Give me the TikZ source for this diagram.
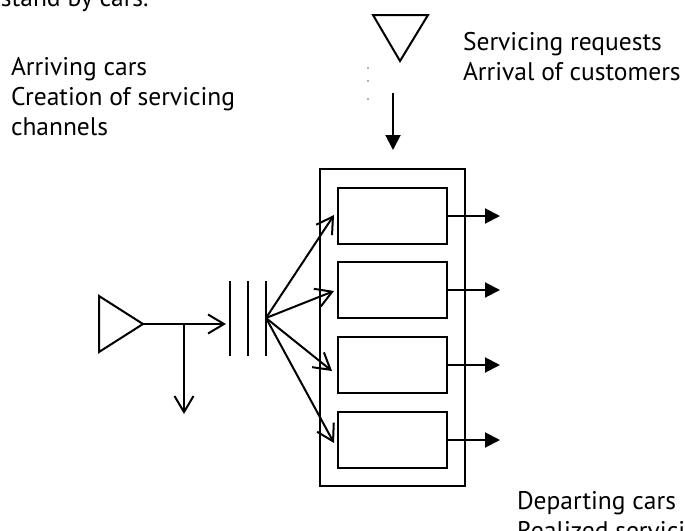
\documentclass[tikz,border=0pt]{standalone}
\usepackage{fontspec}
\setmainfont{PT Sans}
\usetikzlibrary{arrows.meta}
\begin{document}
\begin{tikzpicture}[x=1pt,y=-1pt,line width=2pt,
  chan/.style={draw,minimum width=109pt,minimum height=56pt,inner sep=0pt},
  lbl/.style={anchor=north west,align=left,inner sep=0pt,font=\fontsize{25.5}{30}\selectfont},
  barb/.style={-{Straight Barb[length=16pt,width=19pt]}},
  exit/.style={-{Triangle[length=15pt,width=15pt]}}]
  \useasboundingbox (0,0) rectangle (685,530);
  % cut-off line of the text above
  \node[anchor=base west,inner sep=0pt,font=\fontsize{25.5}{30}\selectfont] (above) at (0,6) {stand by cars.};
  % servicing requests source
  \draw (373,15) -- (428,15) -- (400,61) -- cycle;
  \foreach \y in {67,80,98}
    \fill[gray!60] (367,\y) rectangle (369,\y+1.5);
  \coordinate (reqin) at (393,93);
  \coordinate (reqout) at (393,150);
  \draw[exit] (reqin) -- (reqout);
  % servicing system with channels
  \node[draw,minimum width=145pt,minimum height=317pt,inner sep=0pt] (sys) at (392.5,327.5) {};
  \foreach \y [count=\i] in {216,290,365,440} {
    \node[chan] (b\i) at (392.5,\y) {};
    \coordinate (e\i) at (500,\y);
    \draw[exit] (b\i.east) -- (e\i);
  }
  % arriving cars
  \draw (99,296) -- (143,324) -- (99,352) -- cycle;
  \coordinate (src) at (143,324);
  \coordinate (split) at (184,324);
  \coordinate (drop) at (184,414);
  \coordinate (gate) at (226,324);
  \draw[barb] (src) -- (gate);
  \draw[barb] (split) -- (drop);
  \foreach \x in {230,248,266}
    \draw (\x,281) -- (\x,356);
  \coordinate (fan) at (266,318);
  \draw[barb] (fan) -- ([xshift=-3pt,yshift=1pt]b1.west);
  \draw[barb] (fan) -- ([xshift=-3pt,yshift=-1pt]b2.west);
  \draw[barb] (fan) -- ([xshift=-5pt,yshift=-6pt]b3.west);
  \draw[barb] (fan) -- ([xshift=-3pt,yshift=-3pt]b4.west);
  % labels
  \node[lbl] (arr) at (10,56) {Arriving cars\\Creation of servicing\\channels};
  \node[lbl] (req) at (462,31) {Servicing requests\\Arrival of customers};
  \node[lbl] (dep) at (516,490) {Departing cars\\Realized servicing};
\end{tikzpicture}
\end{document}
